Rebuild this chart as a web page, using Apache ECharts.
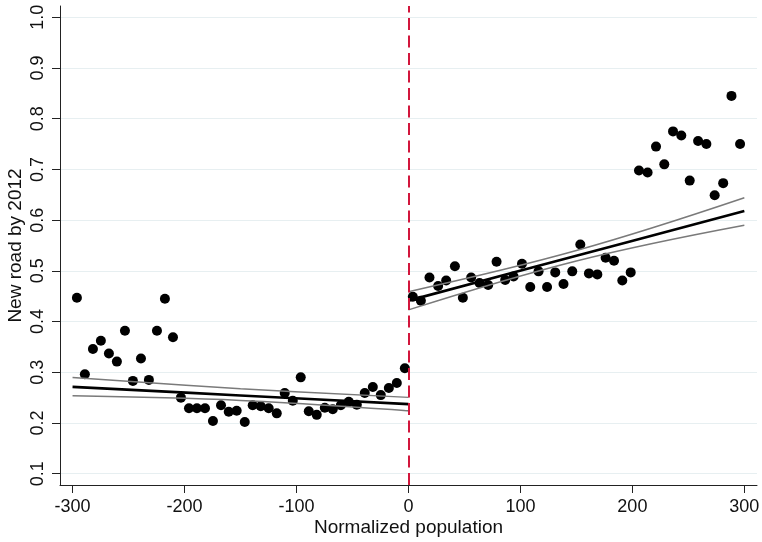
<!DOCTYPE html>
<html>
<head>
<meta charset="utf-8">
<script src="https://cdn.jsdelivr.net/npm/echarts@6/dist/echarts.min.js"></script>
<style>html,body{margin:0;padding:0;background:#fff;}#c{width:762px;height:542px;}</style>
</head>
<body>
<div id="c"></div>
<script>
// Binned means, left of cutoff
const leftX = [-296.1,-289.0,-281.8,-274.7,-267.5,-260.4,-253.2,-246.1,-238.9,-231.8,-224.6,-217.5,-210.3,-203.2,-196.0,-188.9,-181.7,-174.6,-167.4,-160.5,-153.4,-146.2,-139.1,-131.9,-124.8,-117.6,-110.5,-103.3,-96.2,-89.0,-81.9,-74.7,-67.6,-60.4,-53.3,-46.1,-39.0,-31.8,-24.7,-17.5,-10.4,-3.2];
const leftY = [0.447,0.296,0.346,0.362,0.337,0.321,0.382,0.283,0.327,0.285,0.382,0.445,0.369,0.250,0.229,0.229,0.229,0.204,0.235,0.222,0.224,0.202,0.235,0.233,0.229,0.219,0.259,0.244,0.290,0.223,0.216,0.230,0.227,0.235,0.242,0.236,0.259,0.271,0.255,0.269,0.279,0.308];
// Binned means, right of cutoff
const rightX = [3.9,11.1,18.8,26.5,33.7,41.5,48.6,56.0,63.5,71.2,78.7,86.4,93.9,101.4,108.8,116.2,123.8,131.1,138.5,146.3,153.5,161.2,168.7,176.1,183.6,191.0,198.5,205.9,213.6,221.1,228.5,236.3,243.7,251.2,258.7,266.1,273.5,281.1,288.5,296.2];
const rightY = [0.449,0.441,0.487,0.470,0.481,0.509,0.447,0.487,0.476,0.472,0.518,0.482,0.489,0.514,0.468,0.499,0.468,0.497,0.474,0.499,0.552,0.495,0.493,0.526,0.520,0.481,0.497,0.698,0.694,0.745,0.710,0.775,0.767,0.678,0.756,0.750,0.649,0.673,0.845,0.750];
// Linear fits and confidence bounds
const fitLeftX = [-300, -150, 0];
const fitLeftY = [0.2713, 0.2543, 0.2372];
const ciLeftUpper = [0.2895, 0.2675, 0.2505];
const ciLeftLower = [0.2535, 0.2445, 0.2240];
const fitRightX = [0, 150, 300];
const fitRightY = [0.4413, 0.5297, 0.6180];
const ciRightUpper = [0.4590, 0.5400, 0.6440];
const ciRightLower = [0.4230, 0.5195, 0.5900];
// Axis ticks
const xTicks = [-300, -200, -100, 0, 100, 200, 300];
const yTicks = [0.1, 0.2, 0.3, 0.4, 0.5, 0.6, 0.7, 0.8, 0.9, 1.0];
const cutoff = 0;

const zip = (xs, ys) => xs.map((x, i) => [x, ys[i]]);
const FONT = 'Liberation Sans, Arial, sans-serif';
const chart = echarts.init(document.getElementById('c'), null, {renderer: 'canvas'});

function lineSeries(xs, ys, color, width) {
  return {
    type: 'line', data: zip(xs, ys), symbol: 'none', smooth: 0.4,
    lineStyle: {color: color, width: width}, z: 4, silent: true
  };
}

chart.setOption({
  animation: false,
  backgroundColor: '#ffffff',
  grid: {left: 60, right: 5, top: 6, bottom: 57, containLabel: false, outerBoundsMode: 'none'},
  xAxis: {
    type: 'value', min: -311.2, max: 311.3,
    name: 'Normalized population', nameLocation: 'middle', nameGap: 33, nameMoveOverlap: false,
    nameTextStyle: {fontFamily: FONT, fontSize: 19, color: '#111'},
    axisLine: {show: true, onZero: false, lineStyle: {color: '#222', width: 1}},
    axisTick: {show: true, length: 8, customValues: xTicks, lineStyle: {color: '#222'}},
    axisLabel: {customValues: xTicks, margin: 13, fontFamily: FONT, fontSize: 18, color: '#111',
      formatter: v => String(Math.round(v))},
    splitLine: {show: false}
  },
  yAxis: {
    type: 'value', min: 0.0777, max: 1.0223,
    name: 'New road by 2012', nameLocation: 'middle', nameGap: 35, nameRotate: 90, nameMoveOverlap: false,
    nameTextStyle: {fontFamily: FONT, fontSize: 19, color: '#111'},
    axisLine: {show: true, onZero: false, lineStyle: {color: '#222', width: 1}},
    axisTick: {show: true, length: 8, customValues: yTicks, lineStyle: {color: '#222'}},
    axisLabel: {customValues: yTicks, rotate: 90, margin: 13, fontFamily: FONT, fontSize: 18, color: '#111',
      formatter: v => v.toFixed(1)},
    splitLine: {show: true, lineStyle: {color: '#e7eff1', width: 1.2}}
  },
  series: [
    {
      type: 'scatter', data: zip(leftX, leftY), symbol: 'circle', symbolSize: 10,
      itemStyle: {color: '#000', opacity: 1}, z: 3, silent: true
    },
    {
      type: 'scatter', data: zip(rightX, rightY), symbol: 'circle', symbolSize: 10,
      itemStyle: {color: '#000', opacity: 1}, z: 3, silent: true,
      markLine: {
        silent: true, symbol: 'none', label: {show: false},
        lineStyle: {color: '#d2163c', width: 2, type: [12, 5.5]},
        data: [{xAxis: cutoff}]
      }
    },
    lineSeries(fitLeftX, ciLeftUpper, '#7a7a7a', 1.5),
    lineSeries(fitLeftX, ciLeftLower, '#7a7a7a', 1.5),
    lineSeries(fitRightX, ciRightUpper, '#7a7a7a', 1.5),
    lineSeries(fitRightX, ciRightLower, '#7a7a7a', 1.5),
    lineSeries(fitLeftX, fitLeftY, '#000', 2.6),
    lineSeries(fitRightX, fitRightY, '#000', 2.6)
  ]
});
</script>
</body>
</html>
